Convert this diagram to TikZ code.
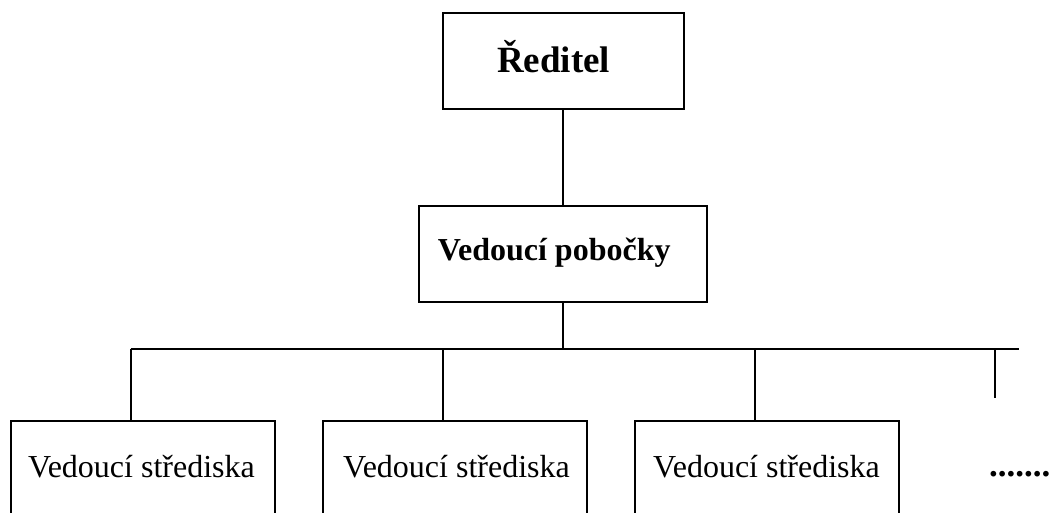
\documentclass[tikz,border=0pt]{standalone}
\usepackage{fontspec}
\setmainfont{Liberation Serif}
\begin{document}
\begin{tikzpicture}[x=1pt,y=-1pt,
  box/.style={draw,line width=2pt,rectangle,inner sep=0pt},
  link/.style={line width=2pt},
  lbl/.style={inner sep=0pt,anchor=base west},
  big/.style={font=\fontsize{37}{40}\selectfont\bfseries},
  mid/.style={font=\fontsize{32}{36}\selectfont\bfseries},
  dots/.style={font=\fontsize{35}{38}\selectfont\bfseries},
  unit/.style={font=\fontsize{32}{36}\selectfont}]
\useasboundingbox (0,0) rectangle (1059,512);
\clip (0,0) rectangle (1059,512);

% boxes
\node[box,minimum width=241.3pt,minimum height=95.7pt] (dir) at (563.35,61.15) {};
\node[box,minimum width=287.7pt,minimum height=96pt] (branch) at (562.85,253.7) {};
\node[box,minimum width=264.3pt,minimum height=140pt] (c1) at (142.85,490.7) {};
\node[box,minimum width=264.2pt,minimum height=140pt] (c2) at (454.6,490.7) {};
\node[box,minimum width=264pt,minimum height=140pt] (c3) at (767,490.7) {};

% labels
\node[lbl,big] (tdir) at (497,72.7) {Ředitel};
\node[lbl,mid] (tbranch) at (437.7,260) {Vedoucí pobočky};
\node[lbl,unit] (tc1) at (28,477.7) {Vedoucí střediska};
\node[lbl,unit] (tc2) at (343,477.7) {Vedoucí střediska};
\node[lbl,unit] (tc3) at (653,477.7) {Vedoucí střediska};
\node[lbl,dots] (more) at (989,476.7) {.......};

% bus coordinates
\coordinate (bl) at (130.7,349.3);
\coordinate (br) at (1019,349.3);
\coordinate (b1) at (130.7,349.3);
\coordinate (b2) at (442.7,349.3);
\coordinate (b3) at (755,349.3);
\coordinate (b4) at (995.3,349.3);
\coordinate (e4) at (995.3,398);

% connectors
\draw[link] (branch.north |- dir.south) -- (branch.north);
\draw[link] (branch.south) -- (branch.south |- bl);
\draw[link] (bl) -- (br);
\draw[link] (b1) -- (b1 |- c1.north);
\draw[link] (b2) -- (b2 |- c2.north);
\draw[link] (b3) -- (b3 |- c3.north);
\draw[link] (b4) -- (e4);
\end{tikzpicture}
\end{document}
